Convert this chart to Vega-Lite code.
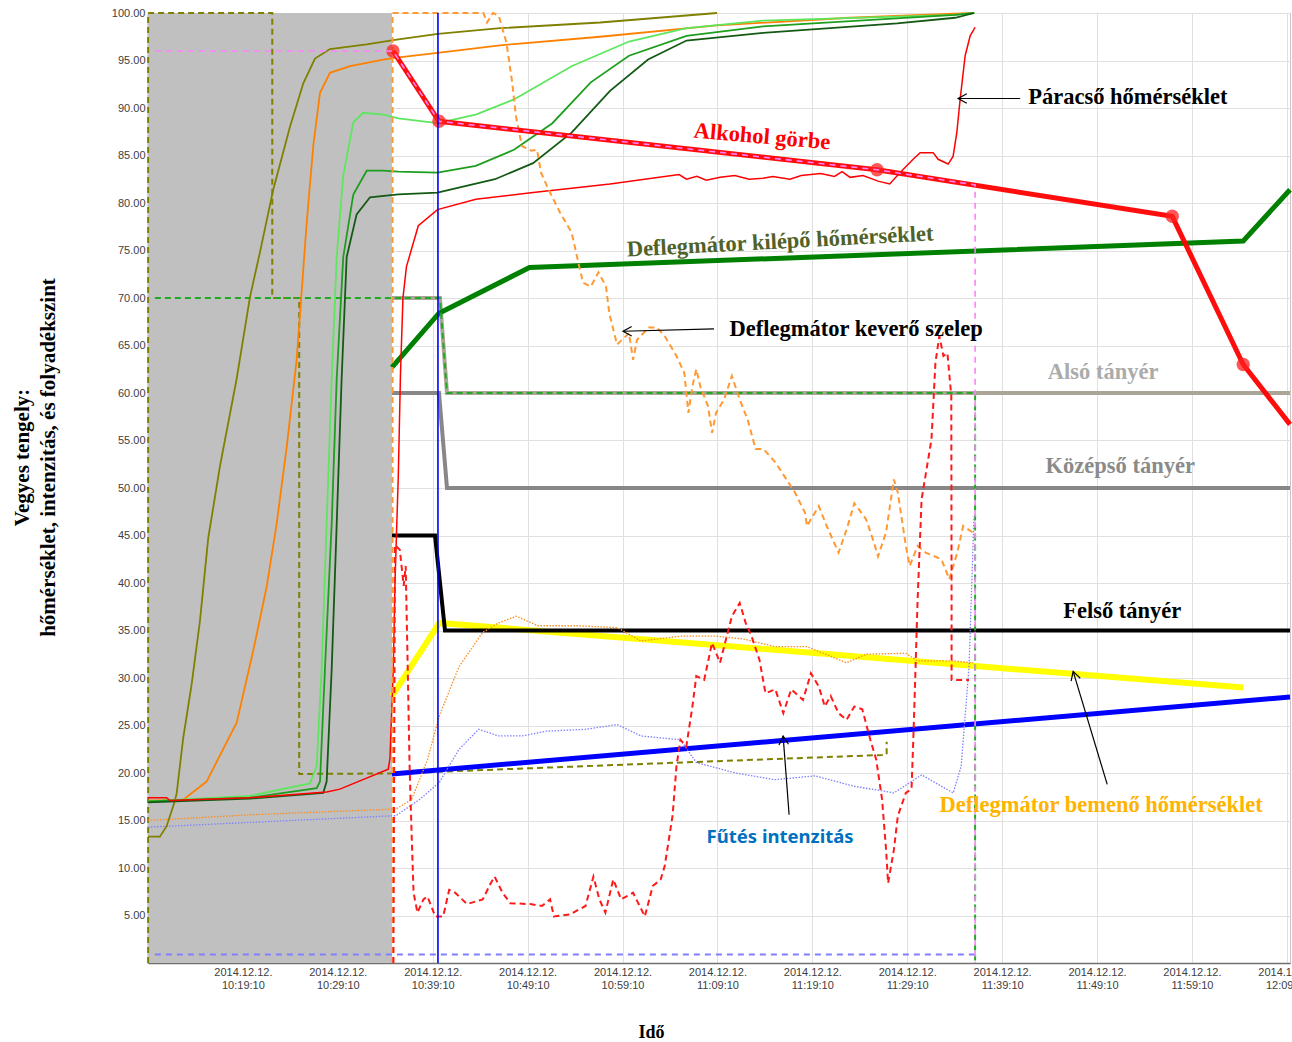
{
"$schema": "https://vega.github.io/schema/vega-lite/v6.json",
"width": 1142,
"height": 950,
"autosize": {"type": "none"},
"padding": {"left": 148, "top": 13, "right": 2, "bottom": 79},
"background": "white",
"config": {"view": {"stroke": "#c8c8c8"}},
"datasets": {
"rows": [
{"s":"shade","t":9.1667,"t2":34.87,"v":0,"v2":100},
{"s":"odash","t":9.18,"v":0},{"s":"odash","t":9.18,"v":100},{"s":"odash","t":22.26,"v":100},{"s":"odash","t":22.26,"v":70},{"s":"odash","t":25.10,"v":70},{"s":"odash","t":25.10,"v":19.9},{"s":"odash","t":34.87,"v":19.95},{"s":"odash","t":86.52,"v":21.9},{"s":"odash","t":87.0,"v":21.95},{"s":"odash","t":87.0,"v":23.3},
{"s":"tan","t":34.87,"v":70},{"s":"tan","t":39.93,"v":70},{"s":"tan","t":40.67,"v":60},{"s":"tan","t":129.5,"v":60},
{"s":"gray","t":34.87,"v":60},{"s":"gray","t":39.83,"v":60},{"s":"gray","t":40.67,"v":50},{"s":"gray","t":129.5,"v":50},
{"s":"yellow","t":34.87,"v":28.1},{"s":"yellow","t":39.86,"v":35.8},{"s":"yellow","t":124.57,"v":29.0},
{"s":"black","t":34.87,"v":45},{"s":"black","t":39.41,"v":45},{"s":"black","t":40.46,"v":35},{"s":"black","t":129.5,"v":35},
{"s":"gthick","t":34.87,"v":62.7},{"s":"gthick","t":39.83,"v":68.4},{"s":"gthick","t":49.36,"v":73.2},{"s":"gthick","t":124.57,"v":76.0},{"s":"gthick","t":129.5,"v":81.4},
{"s":"bthick","t":34.87,"v":19.9},{"s":"bthick","t":129.5,"v":28.0},
{"s":"gdash","t":9.89,"v":70},{"s":"gdash","t":39.93,"v":70},{"s":"gdash","t":40.67,"v":60},{"s":"gdash","t":96.32,"v":60},{"s":"gdash","t":96.32,"v":0},
{"s":"bdash","t":9.89,"v":0.9},{"s":"bdash","t":96.32,"v":0.9},
{"s":"odot","t":9.17,"v":15.0},{"s":"odot","t":19.91,"v":15.6},{"s":"odot","t":35.01,"v":16.2},{"s":"odot","t":35.28,"v":16.2},{"s":"odot","t":36.94,"v":17.2},{"s":"odot","t":38.61,"v":21.4},{"s":"odot","t":39.86,"v":26.0},{"s":"odot","t":41.94,"v":31.2},{"s":"odot","t":44.44,"v":34.8},{"s":"odot","t":46.11,"v":35.8},{"s":"odot","t":47.99,"v":36.5},{"s":"odot","t":50.27,"v":35.5},{"s":"odot","t":54.44,"v":35.5},{"s":"odot","t":58.61,"v":35.3},{"s":"odot","t":61.11,"v":33.9},{"s":"odot","t":65.27,"v":34.4},{"s":"odot","t":69.02,"v":34.4},{"s":"odot","t":71.93,"v":34.1},{"s":"odot","t":75.27,"v":33.3},{"s":"odot","t":78.60,"v":33.3},{"s":"odot","t":82.77,"v":31.6},{"s":"odot","t":84.84,"v":32.5},{"s":"odot","t":89.02,"v":32.6},{"s":"odot","t":90.26,"v":31.8},{"s":"odot","t":94.01,"v":31.8},{"s":"odot","t":96.10,"v":31.6},
{"s":"bdot","t":9.17,"v":14.3},{"s":"bdot","t":19.91,"v":14.8},{"s":"bdot","t":35.01,"v":15.5},{"s":"bdot","t":35.28,"v":15.5},{"s":"bdot","t":37.77,"v":17.2},{"s":"bdot","t":39.86,"v":19.0},{"s":"bdot","t":41.94,"v":22.5},{"s":"bdot","t":44.02,"v":24.6},{"s":"bdot","t":46.11,"v":23.9},{"s":"bdot","t":48.61,"v":23.9},{"s":"bdot","t":51.11,"v":24.4},{"s":"bdot","t":55.27,"v":24.6},{"s":"bdot","t":58.61,"v":25.1},{"s":"bdot","t":61.11,"v":23.9},{"s":"bdot","t":65.27,"v":23.5},{"s":"bdot","t":66.94,"v":21.1},{"s":"bdot","t":71.10,"v":20.0},{"s":"bdot","t":75.27,"v":19.3},{"s":"bdot","t":79.44,"v":19.7},{"s":"bdot","t":83.60,"v":18.6},{"s":"bdot","t":87.76,"v":17.9},{"s":"bdot","t":90.68,"v":19.8},{"s":"bdot","t":94.01,"v":17.9},{"s":"bdot","t":94.85,"v":20.7},{"s":"bdot","t":95.68,"v":31.2},{"s":"bdot","t":96.2,"v":47.0},
{"s":"olive","t":9.17,"v":13.3},{"s":"olive","t":10.42,"v":13.3},{"s":"olive","t":11.13,"v":14.4},{"s":"olive","t":11.82,"v":16.5},{"s":"olive","t":12.18,"v":17.8},{"s":"olive","t":12.88,"v":23.7},{"s":"olive","t":13.76,"v":29.3},{"s":"olive","t":14.64,"v":36.0},{"s":"olive","t":15.51,"v":44.7},{"s":"olive","t":16.75,"v":52.3},{"s":"olive","t":18.51,"v":61.5},{"s":"olive","t":19.91,"v":70.1},{"s":"olive","t":20.96,"v":74.8},{"s":"olive","t":22.36,"v":81.4},{"s":"olive","t":24.12,"v":88.0},{"s":"olive","t":25.53,"v":92.6},{"s":"olive","t":26.76,"v":95.2},{"s":"olive","t":28.34,"v":96.2},{"s":"olive","t":32.21,"v":96.7},{"s":"olive","t":35.37,"v":97.2},{"s":"olive","t":39.72,"v":97.8},{"s":"olive","t":46.26,"v":98.4},{"s":"olive","t":56.80,"v":99.0},{"s":"olive","t":69.13,"v":100},
{"s":"orange","t":9.17,"v":17.1},{"s":"orange","t":12.88,"v":17.2},{"s":"orange","t":15.34,"v":19.1},{"s":"orange","t":18.51,"v":25.3},{"s":"orange","t":20.26,"v":32.9},{"s":"orange","t":21.67,"v":39.6},{"s":"orange","t":22.72,"v":46.2},{"s":"orange","t":23.78,"v":54.3},{"s":"orange","t":24.83,"v":63.5},{"s":"orange","t":25.36,"v":70.7},{"s":"orange","t":25.88,"v":77.8},{"s":"orange","t":26.58,"v":86.0},{"s":"orange","t":27.29,"v":91.6},{"s":"orange","t":28.34,"v":93.7},{"s":"orange","t":30.45,"v":94.4},{"s":"orange","t":33.96,"v":95.1},{"s":"orange","t":35.37,"v":95.3},{"s":"orange","t":39.67,"v":95.8},{"s":"orange","t":46.26,"v":96.6},{"s":"orange","t":56.80,"v":97.5},{"s":"orange","t":69.13,"v":98.7},{"s":"orange","t":83.15,"v":99.5},{"s":"orange","t":96.22,"v":100},
{"s":"lg","t":9.17,"v":17.0},{"s":"lg","t":19.91,"v":17.6},{"s":"lg","t":26.23,"v":18.9},{"s":"lg","t":26.94,"v":20.7},{"s":"lg","t":27.46,"v":30.9},{"s":"lg","t":27.99,"v":46.2},{"s":"lg","t":28.52,"v":61.5},{"s":"lg","t":29.05,"v":74.3},{"s":"lg","t":29.74,"v":82.9},{"s":"lg","t":30.80,"v":88.5},{"s":"lg","t":31.85,"v":89.5},{"s":"lg","t":33.96,"v":89.3},{"s":"lg","t":35.54,"v":88.9},{"s":"lg","t":39.67,"v":88.4},{"s":"lg","t":43.71,"v":89.3},{"s":"lg","t":47.73,"v":90.9},{"s":"lg","t":53.80,"v":94.4},{"s":"lg","t":59.85,"v":97.0},{"s":"lg","t":65.91,"v":98.4},{"s":"lg","t":73.98,"v":99.2},{"s":"lg","t":94.21,"v":99.8},{"s":"lg","t":96.22,"v":100},
{"s":"mg","t":9.17,"v":17.0},{"s":"mg","t":19.91,"v":17.4},{"s":"mg","t":26.94,"v":18.4},{"s":"mg","t":27.29,"v":19.1},{"s":"mg","t":27.81,"v":30.9},{"s":"mg","t":28.52,"v":46.2},{"s":"mg","t":29.05,"v":61.5},{"s":"mg","t":29.74,"v":74.3},{"s":"mg","t":30.80,"v":80.9},{"s":"mg","t":32.21,"v":83.4},{"s":"mg","t":33.96,"v":83.4},{"s":"mg","t":35.54,"v":83.3},{"s":"mg","t":39.67,"v":83.2},{"s":"mg","t":43.71,"v":83.9},{"s":"mg","t":47.73,"v":85.6},{"s":"mg","t":51.78,"v":88.4},{"s":"mg","t":55.82,"v":92.7},{"s":"mg","t":59.85,"v":95.5},{"s":"mg","t":65.91,"v":97.6},{"s":"mg","t":73.98,"v":98.6},{"s":"mg","t":94.21,"v":99.8},{"s":"mg","t":96.22,"v":100},
{"s":"dg","t":9.17,"v":16.9},{"s":"dg","t":19.91,"v":17.3},{"s":"dg","t":27.63,"v":17.9},{"s":"dg","t":27.99,"v":19.1},{"s":"dg","t":28.52,"v":30.9},{"s":"dg","t":29.05,"v":46.2},{"s":"dg","t":29.57,"v":61.5},{"s":"dg","t":30.10,"v":74.3},{"s":"dg","t":31.15,"v":78.8},{"s":"dg","t":32.56,"v":80.6},{"s":"dg","t":35.54,"v":80.9},{"s":"dg","t":39.67,"v":81.1},{"s":"dg","t":45.73,"v":82.5},{"s":"dg","t":49.74,"v":84.2},{"s":"dg","t":53.80,"v":87.4},{"s":"dg","t":57.85,"v":91.8},{"s":"dg","t":61.86,"v":95.1},{"s":"dg","t":65.91,"v":97.1},{"s":"dg","t":73.98,"v":97.9},{"s":"dg","t":88.10,"v":98.9},{"s":"dg","t":94.21,"v":99.5},{"s":"dg","t":96.22,"v":100},
{"s":"red","t":9.17,"v":17.4},{"s":"red","t":11.13,"v":17.4},{"s":"red","t":11.48,"v":17.1},{"s":"red","t":19.91,"v":17.4},{"s":"red","t":27.99,"v":18.0},{"s":"red","t":29.39,"v":18.3},{"s":"red","t":34.48,"v":20.4},{"s":"red","t":34.66,"v":21.5},{"s":"red","t":35.01,"v":30.9},{"s":"red","t":35.19,"v":40.0},{"s":"red","t":35.54,"v":51.3},{"s":"red","t":35.77,"v":62.0},{"s":"red","t":36.03,"v":70.0},{"s":"red","t":36.40,"v":73.3},{"s":"red","t":37.65,"v":77.6},{"s":"red","t":39.67,"v":79.3},{"s":"red","t":43.71,"v":80.4},{"s":"red","t":49.74,"v":81.1},{"s":"red","t":57.85,"v":82.0},{"s":"red","t":65.12,"v":83.0},{"s":"red","t":65.91,"v":82.5},{"s":"red","t":67.0,"v":82.8},{"s":"red","t":68.0,"v":82.4},{"s":"red","t":69.45,"v":82.7},{"s":"red","t":71.0,"v":82.9},{"s":"red","t":72.5,"v":82.5},{"s":"red","t":73.98,"v":82.6},{"s":"red","t":75.0,"v":82.8},{"s":"red","t":76.82,"v":82.5},{"s":"red","t":78.0,"v":82.9},{"s":"red","t":80.05,"v":83.1},{"s":"red","t":81.5,"v":82.8},{"s":"red","t":82.3,"v":83.3},{"s":"red","t":83.15,"v":82.7},{"s":"red","t":84.5,"v":82.9},{"s":"red","t":86.10,"v":82.3},{"s":"red","t":87.32,"v":82.0},{"s":"red","t":88.42,"v":83.2},{"s":"red","t":89.79,"v":84.6},{"s":"red","t":90.53,"v":85.3},{"s":"red","t":91.90,"v":85.3},{"s":"red","t":92.42,"v":84.6},{"s":"red","t":93.48,"v":84.1},{"s":"red","t":94.00,"v":84.9},{"s":"red","t":94.39,"v":87.4},{"s":"red","t":94.74,"v":90.9},{"s":"red","t":95.27,"v":95.5},{"s":"red","t":95.80,"v":97.6},{"s":"red","t":96.32,"v":98.5},
{"s":"valve","t":34.93,"v":0},{"s":"valve","t":34.93,"v":100},{"s":"valve","t":44.51,"v":100},{"s":"valve","t":44.89,"v":99.0},{"s":"valve","t":45.52,"v":100},{"s":"valve","t":46.13,"v":99.7},{"s":"valve","t":46.93,"v":96.9},{"s":"valve","t":47.54,"v":92.7},{"s":"valve","t":47.94,"v":89.1},{"s":"valve","t":48.56,"v":86.0},{"s":"valve","t":49.56,"v":85.5},{"s":"valve","t":50.16,"v":85.6},{"s":"valve","t":50.58,"v":83.2},{"s":"valve","t":51.38,"v":81.4},{"s":"valve","t":52.58,"v":79.0},{"s":"valve","t":53.80,"v":76.9},{"s":"valve","t":54.61,"v":73.3},{"s":"valve","t":55.01,"v":71.6},{"s":"valve","t":55.82,"v":71.2},{"s":"valve","t":56.63,"v":72.7},{"s":"valve","t":57.43,"v":71.2},{"s":"valve","t":57.77,"v":68.4},{"s":"valve","t":58.59,"v":65.1},{"s":"valve","t":59.85,"v":66.3},{"s":"valve","t":60.28,"v":63.5},{"s":"valve","t":60.70,"v":65.6},{"s":"valve","t":61.94,"v":66.9},{"s":"valve","t":62.77,"v":66.9},{"s":"valve","t":63.61,"v":66.0},{"s":"valve","t":64.85,"v":63.9},{"s":"valve","t":65.68,"v":62.1},{"s":"valve","t":66.11,"v":57.9},{"s":"valve","t":66.53,"v":60.7},{"s":"valve","t":66.94,"v":62.5},{"s":"valve","t":67.36,"v":60.7},{"s":"valve","t":68.18,"v":58.6},{"s":"valve","t":68.60,"v":55.8},{"s":"valve","t":69.02,"v":57.9},{"s":"valve","t":69.86,"v":59.3},{"s":"valve","t":70.69,"v":61.8},{"s":"valve","t":71.52,"v":59.3},{"s":"valve","t":72.35,"v":57.2},{"s":"valve","t":73.19,"v":54.1},{"s":"valve","t":74.02,"v":54.1},{"s":"valve","t":75.27,"v":52.7},{"s":"valve","t":77.35,"v":49.5},{"s":"valve","t":78.40,"v":47.4},{"s":"valve","t":78.60,"v":46.0},{"s":"valve","t":79.85,"v":48.1},{"s":"valve","t":80.68,"v":46.0},{"s":"valve","t":81.93,"v":43.2},{"s":"valve","t":82.77,"v":45.6},{"s":"valve","t":83.60,"v":48.4},{"s":"valve","t":84.84,"v":46.7},{"s":"valve","t":85.68,"v":44.2},{"s":"valve","t":86.09,"v":42.8},{"s":"valve","t":86.93,"v":45.3},{"s":"valve","t":87.76,"v":50.9},{"s":"valve","t":88.18,"v":49.5},{"s":"valve","t":89.02,"v":43.9},{"s":"valve","t":89.43,"v":41.8},{"s":"valve","t":90.26,"v":43.9},{"s":"valve","t":91.11,"v":43.2},{"s":"valve","t":92.77,"v":42.5},{"s":"valve","t":93.60,"v":40.4},{"s":"valve","t":94.44,"v":43.2},{"s":"valve","t":95.06,"v":46.0},{"s":"valve","t":96.10,"v":45.3},
{"s":"rdash","t":35.03,"v":0},{"s":"rdash","t":35.19,"v":44},{"s":"rdash","t":35.70,"v":43.5},{"s":"rdash","t":36.11,"v":39.7},{"s":"rdash","t":36.32,"v":41.8},{"s":"rdash","t":36.53,"v":31.2},{"s":"rdash","t":36.73,"v":20.7},{"s":"rdash","t":36.94,"v":13.7},{"s":"rdash","t":37.15,"v":7.4},{"s":"rdash","t":37.56,"v":5.3},{"s":"rdash","t":38.19,"v":6.7},{"s":"rdash","t":38.61,"v":7.0},{"s":"rdash","t":39.44,"v":4.9},{"s":"rdash","t":40.27,"v":4.9},{"s":"rdash","t":40.90,"v":7.7},{"s":"rdash","t":41.53,"v":7.4},{"s":"rdash","t":42.78,"v":6.2},{"s":"rdash","t":44.44,"v":6.7},{"s":"rdash","t":45.28,"v":8.4},{"s":"rdash","t":45.69,"v":9.1},{"s":"rdash","t":46.52,"v":7.4},{"s":"rdash","t":47.35,"v":6.3},{"s":"rdash","t":49.44,"v":6.2},{"s":"rdash","t":50.68,"v":6.0},{"s":"rdash","t":51.53,"v":6.7},{"s":"rdash","t":51.94,"v":4.9},{"s":"rdash","t":53.60,"v":5.1},{"s":"rdash","t":55.27,"v":6.0},{"s":"rdash","t":56.10,"v":9.1},{"s":"rdash","t":56.73,"v":6.7},{"s":"rdash","t":57.36,"v":5.3},{"s":"rdash","t":58.19,"v":8.8},{"s":"rdash","t":59.02,"v":6.7},{"s":"rdash","t":60.28,"v":7.4},{"s":"rdash","t":61.52,"v":4.9},{"s":"rdash","t":62.35,"v":8.1},{"s":"rdash","t":63.19,"v":8.8},{"s":"rdash","t":63.61,"v":10.2},{"s":"rdash","t":64.44,"v":15.5},{"s":"rdash","t":64.85,"v":20.7},{"s":"rdash","t":65.27,"v":23.5},{"s":"rdash","t":65.89,"v":22.8},{"s":"rdash","t":66.53,"v":27.0},{"s":"rdash","t":66.94,"v":30.2},{"s":"rdash","t":67.77,"v":29.8},{"s":"rdash","t":68.60,"v":33.7},{"s":"rdash","t":69.44,"v":31.6},{"s":"rdash","t":70.69,"v":36.5},{"s":"rdash","t":71.52,"v":37.9},{"s":"rdash","t":72.14,"v":35.8},{"s":"rdash","t":72.76,"v":34.4},{"s":"rdash","t":73.60,"v":31.9},{"s":"rdash","t":74.23,"v":28.4},{"s":"rdash","t":75.27,"v":28.8},{"s":"rdash","t":76.11,"v":26.3},{"s":"rdash","t":76.94,"v":28.8},{"s":"rdash","t":78.19,"v":27.7},{"s":"rdash","t":79.02,"v":30.5},{"s":"rdash","t":79.85,"v":29.1},{"s":"rdash","t":80.48,"v":27.0},{"s":"rdash","t":81.10,"v":28.1},{"s":"rdash","t":81.93,"v":26.3},{"s":"rdash","t":82.77,"v":25.6},{"s":"rdash","t":83.60,"v":27.0},{"s":"rdash","t":84.43,"v":26.7},{"s":"rdash","t":85.28,"v":23.5},{"s":"rdash","t":85.90,"v":21.4},{"s":"rdash","t":86.52,"v":17.2},{"s":"rdash","t":86.94,"v":11.9},{"s":"rdash","t":87.15,"v":8.4},{"s":"rdash","t":87.76,"v":11.9},{"s":"rdash","t":88.18,"v":15.5},{"s":"rdash","t":89.02,"v":17.9},{"s":"rdash","t":89.62,"v":18.3},{"s":"rdash","t":89.83,"v":24.2},{"s":"rdash","t":90.26,"v":38.2},{"s":"rdash","t":90.68,"v":48.8},{"s":"rdash","t":91.72,"v":55.1},{"s":"rdash","t":92.14,"v":63.2},{"s":"rdash","t":92.55,"v":66.0},{"s":"rdash","t":92.98,"v":63.9},{"s":"rdash","t":93.40,"v":64.2},{"s":"rdash","t":93.81,"v":59.7},{"s":"rdash","t":93.84,"v":38.3},{"s":"rdash","t":93.84,"v":29.8},{"s":"rdash","t":95.68,"v":29.8},
{"s":"alk","t":34.98,"v":96.0},{"s":"alk","t":39.83,"v":88.6},{"s":"alk","t":85.99,"v":83.5},{"s":"alk","t":117.09,"v":78.6},{"s":"alk","t":124.57,"v":63.0},{"s":"alk","t":129.5,"v":56.7},
{"s":"alkpt","t":34.98,"v":96.0},{"s":"alkpt","t":39.83,"v":88.6},{"s":"alkpt","t":85.99,"v":83.5},{"s":"alkpt","t":117.09,"v":78.6},{"s":"alkpt","t":124.57,"v":63.0},
{"s":"pink","t":9.89,"v":96.0},{"s":"pink","t":34.98,"v":96.0},{"s":"pink","t":39.83,"v":88.6},{"s":"pink","t":85.99,"v":83.5},{"s":"pink","t":96.32,"v":81.9},{"s":"pink","t":96.32,"v":0},
{"s":"bvert","t":39.72,"v":0},{"s":"bvert","t":39.72,"v":100},
{"s":"arr","t":101.07,"v":91.0,"t2":94.53,"v2":91.0},{"s":"arr","t":68.81,"v":66.75,"t2":59.22,"v2":66.5},{"s":"arr","t":110.24,"v":18.8,"t2":106.65,"v2":30.7},{"s":"arr","t":76.72,"v":15.6,"t2":76.09,"v2":23.9},
{"s":"headL","t":94.53,"v":91.0},{"s":"headL","t":59.22,"v":66.5},{"s":"head8","t":106.65,"v":30.7},{"s":"head9","t":76.09,"v":23.9},
{"s":"lbl_para","t":101.91,"v":91.2,"label":"Páracső hőmérséklet"},
{"s":"lbl_alk","t":73.87,"v":87.0,"label":"Alkohol görbe"},
{"s":"lbl_kilep","t":75.77,"v":75.95,"label":"Deflegmátor kilépő hőmérséklet"},
{"s":"lbl_kever","t":83.78,"v":66.7,"label":"Deflegmátor keverő szelep"},
{"s":"lbl_also","t":109.81,"v":62.2,"label":"Alsó tányér"},
{"s":"lbl_kozep","t":111.61,"v":52.3,"label":"Középső tányér"},
{"s":"lbl_felso","t":111.82,"v":37.1,"label":"Felső tányér"},
{"s":"lbl_bemen","t":109.60,"v":16.6,"label":"Deflegmátor bemenő hőmérséklet"},
{"s":"lbl_futes","t":75.77,"v":13.3,"label":"Fűtés intenzitás"}
]
},
"data": {"name": "rows"},
"transform": [{"window": [{"op": "row_number", "as": "i"}]}],
"encoding": {
"x": {"field": "t", "type": "quantitative",
 "scale": {"domain": [9.1667, 129.5], "nice": false, "zero": false},
 "axis": {"values": [19.1667, 29.1667, 39.1667, 49.1667, 59.1667, 69.1667, 79.1667, 89.1667, 99.1667, 109.1667, 119.1667, 129.1667],
  "labelExpr": "['2014.12.12.', timeFormat(datetime(2014, 11, 12, 10, 0, round(datum.value*60)), '%H:%M:%S')]",
  "title": "Idő", "titleFont": "Liberation Serif", "titleFontSize": 18, "titleFontWeight": "bold", "titleColor": "#000000",
  "titleX": 503, "titleY": 69, "titleAlign": "center", "titleBaseline": "middle",
  "labelFont": "Liberation Sans", "labelFontSize": 11, "labelColor": "#404040", "labelPadding": 3, "labelLineHeight": 13,
  "labelOverlap": false, "labelFlush": false, "labelBound": false,
  "ticks": false, "grid": true, "gridColor": "#e0e0e0", "domainColor": "#707070", "domainWidth": 1.5}},
"y": {"field": "v", "type": "quantitative",
 "scale": {"domain": [0, 100], "nice": false, "zero": false},
 "axis": {"values": [5,10,15,20,25,30,35,40,45,50,55,60,65,70,75,80,85,90,95,100], "format": ".2f",
  "title": ["Vegyes tengely:", "hőmérséklet, intenzitás, és folyadékszint"],
  "titleFont": "Liberation Serif", "titleFontSize": 21, "titleFontWeight": "bold", "titleColor": "#000000",
  "titleAngle": -90, "titleX": -126, "titleY": 444, "titleAlign": "center", "titleBaseline": "middle", "titleLineHeight": 26,
  "labelFont": "Liberation Sans", "labelFontSize": 11, "labelColor": "#404040", "labelPadding": 3,
  "ticks": false, "grid": true, "gridColor": "#e0e0e0", "domainColor": "#707070", "domainWidth": 1.5}},
"order": {"field": "i", "type": "quantitative"}
},
"layer": [
{"transform": [{"filter": "datum.s == 'shade'"}], "mark": {"type": "rect", "color": "#c0c0c0"}, "encoding": {"x2": {"field": "t2"}, "y2": {"field": "v2"}}},
{"transform": [{"filter": "datum.s == 'odash'"}], "mark": {"type": "line", "color": "#808000", "strokeWidth": 2, "strokeDash": [6, 4]}},
{"transform": [{"filter": "datum.s == 'tan'"}], "mark": {"type": "line", "color": "#aaa596", "strokeWidth": 4}},
{"transform": [{"filter": "datum.s == 'gray'"}], "mark": {"type": "line", "color": "#878787", "strokeWidth": 4}},
{"transform": [{"filter": "datum.s == 'yellow'"}], "mark": {"type": "line", "color": "#ffff00", "strokeWidth": 6}},
{"transform": [{"filter": "datum.s == 'black'"}], "mark": {"type": "line", "color": "#000000", "strokeWidth": 4}},
{"transform": [{"filter": "datum.s == 'gthick'"}], "mark": {"type": "line", "color": "#008000", "strokeWidth": 5}},
{"transform": [{"filter": "datum.s == 'bthick'"}], "mark": {"type": "line", "color": "#0000ff", "strokeWidth": 5}},
{"transform": [{"filter": "datum.s == 'gdash'"}], "mark": {"type": "line", "color": "#22aa22", "strokeWidth": 2, "strokeDash": [6, 4]}},
{"transform": [{"filter": "datum.s == 'bdash'"}], "mark": {"type": "line", "color": "#8080ff", "strokeWidth": 2, "strokeDash": [6, 5]}},
{"transform": [{"filter": "datum.s == 'odot'"}], "mark": {"type": "line", "color": "#ff8c1a", "strokeWidth": 1.3, "strokeDash": [1.5, 1.5]}},
{"transform": [{"filter": "datum.s == 'bdot'"}], "mark": {"type": "line", "color": "#8080ff", "strokeWidth": 1.3, "strokeDash": [1.5, 1.5]}},
{"transform": [{"filter": "datum.s == 'olive'"}], "mark": {"type": "line", "color": "#808000", "strokeWidth": 1.8}},
{"transform": [{"filter": "datum.s == 'orange'"}], "mark": {"type": "line", "color": "#ff8000", "strokeWidth": 1.8}},
{"transform": [{"filter": "datum.s == 'lg'"}], "mark": {"type": "line", "color": "#5ee65e", "strokeWidth": 1.8}},
{"transform": [{"filter": "datum.s == 'mg'"}], "mark": {"type": "line", "color": "#1e9e1e", "strokeWidth": 1.8}},
{"transform": [{"filter": "datum.s == 'dg'"}], "mark": {"type": "line", "color": "#145a14", "strokeWidth": 1.8}},
{"transform": [{"filter": "datum.s == 'red'"}], "mark": {"type": "line", "color": "#ff0000", "strokeWidth": 1.5}},
{"transform": [{"filter": "datum.s == 'valve'"}], "mark": {"type": "line", "color": "#ff9933", "strokeWidth": 2, "strokeDash": [6, 4]}},
{"transform": [{"filter": "datum.s == 'rdash'"}], "mark": {"type": "line", "color": "#ff1a1a", "strokeWidth": 2, "strokeDash": [6, 4]}},
{"transform": [{"filter": "datum.s == 'alk'"}], "mark": {"type": "line", "color": "#ff0000", "strokeWidth": 5, "opacity": 0.95}},
{"transform": [{"filter": "datum.s == 'alkpt'"}], "mark": {"type": "circle", "color": "#ff2020", "size": 180, "opacity": 0.75}},
{"transform": [{"filter": "datum.s == 'pink'"}], "mark": {"type": "line", "color": "#ff80ff", "strokeWidth": 1.6, "strokeDash": [6, 5]}},
{"transform": [{"filter": "datum.s == 'bvert'"}], "mark": {"type": "line", "color": "#0000ff", "strokeWidth": 1.6}},
{"transform": [{"filter": "datum.s == 'arr'"}], "mark": {"type": "rule", "color": "#000000", "strokeWidth": 1.2}, "encoding": {"x2": {"field": "t2"}, "y2": {"field": "v2"}}},
{"transform": [{"filter": "datum.s == 'headL'"}], "mark": {"type": "point", "shape": "M1,-0.55L0,0L1,0.55", "size": 300, "filled": false, "color": "#000000", "strokeWidth": 1.2, "angle": 0, "opacity": 1}},
{"transform": [{"filter": "datum.s == 'head8'"}], "mark": {"type": "point", "shape": "M1,-0.55L0,0L1,0.55", "size": 300, "filled": false, "color": "#000000", "strokeWidth": 1.2, "angle": 73, "opacity": 1}},
{"transform": [{"filter": "datum.s == 'head9'"}], "mark": {"type": "point", "shape": "M1,-0.55L0,0L1,0.55", "size": 300, "filled": false, "color": "#000000", "strokeWidth": 1.2, "angle": 86, "opacity": 1}},
{"transform": [{"filter": "datum.s == 'lbl_para'"}], "mark": {"type": "text", "align": "left", "baseline": "middle", "font": "Liberation Serif", "fontWeight": "bold", "fontSize": 22.5, "color": "#000000"}, "encoding": {"text": {"field": "label"}}},
{"transform": [{"filter": "datum.s == 'lbl_alk'"}], "mark": {"type": "text", "align": "center", "baseline": "middle", "font": "Liberation Serif", "fontWeight": "bold", "fontSize": 22.5, "color": "#ff0000", "angle": 5}, "encoding": {"text": {"field": "label"}}},
{"transform": [{"filter": "datum.s == 'lbl_kilep'"}], "mark": {"type": "text", "align": "center", "baseline": "middle", "font": "Liberation Serif", "fontWeight": "bold", "fontSize": 22.5, "color": "#4f6228", "angle": 357}, "encoding": {"text": {"field": "label"}}},
{"transform": [{"filter": "datum.s == 'lbl_kever'"}], "mark": {"type": "text", "align": "center", "baseline": "middle", "font": "Liberation Serif", "fontWeight": "bold", "fontSize": 22.5, "color": "#000000"}, "encoding": {"text": {"field": "label"}}},
{"transform": [{"filter": "datum.s == 'lbl_also'"}], "mark": {"type": "text", "align": "center", "baseline": "middle", "font": "Liberation Serif", "fontWeight": "bold", "fontSize": 22.5, "color": "#ababab"}, "encoding": {"text": {"field": "label"}}},
{"transform": [{"filter": "datum.s == 'lbl_kozep'"}], "mark": {"type": "text", "align": "center", "baseline": "middle", "font": "Liberation Serif", "fontWeight": "bold", "fontSize": 22.5, "color": "#8a8a8a"}, "encoding": {"text": {"field": "label"}}},
{"transform": [{"filter": "datum.s == 'lbl_felso'"}], "mark": {"type": "text", "align": "center", "baseline": "middle", "font": "Liberation Serif", "fontWeight": "bold", "fontSize": 22.5, "color": "#000000"}, "encoding": {"text": {"field": "label"}}},
{"transform": [{"filter": "datum.s == 'lbl_bemen'"}], "mark": {"type": "text", "align": "center", "baseline": "middle", "font": "Liberation Serif", "fontWeight": "bold", "fontSize": 22.5, "color": "#ffb400"}, "encoding": {"text": {"field": "label"}}},
{"transform": [{"filter": "datum.s == 'lbl_futes'"}], "mark": {"type": "text", "align": "center", "baseline": "middle", "font": "Noto Sans", "fontWeight": "bold", "fontSize": 18.5, "color": "#0070c0"}, "encoding": {"text": {"field": "label"}}}
]
}
